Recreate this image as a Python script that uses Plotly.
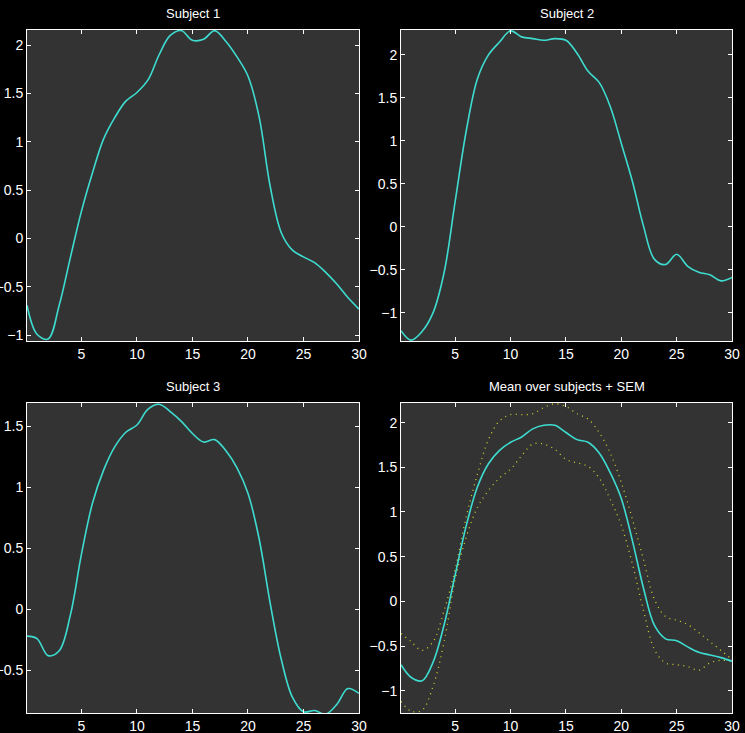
import plotly.graph_objects as go

# time axis shared by all panels
t = [0.1] + list(range(1, 31))

subject_1 = [-0.69, -0.99, -1.04, -0.69, -0.20, 0.28, 0.68, 1.03, 1.25, 1.42, 1.51,
             1.64, 1.90, 2.10, 2.15, 2.05, 2.06, 2.15, 2.04, 1.88, 1.68,
             1.26, 0.54, 0.06, -0.12, -0.19, -0.25, -0.35, -0.47, -0.61, -0.73]
subject_2 = [-1.21, -1.32, -1.22, -1.00, -0.53, 0.30, 1.12, 1.72, 2.00, 2.15, 2.28,
             2.21, 2.19, 2.17, 2.19, 2.17, 2.02, 1.81, 1.68, 1.40, 0.97,
             0.53, 0.01, -0.38, -0.44, -0.32, -0.46, -0.53, -0.56, -0.63, -0.59]
subject_3 = [-0.22, -0.24, -0.38, -0.34, -0.05, 0.45, 0.87, 1.14, 1.33, 1.45, 1.51,
             1.64, 1.68, 1.62, 1.54, 1.44, 1.37, 1.39, 1.30, 1.16, 0.95,
             0.58, 0.05, -0.41, -0.72, -0.84, -0.83, -0.86, -0.78, -0.65, -0.69]
mean_all = [-0.71, -0.85, -0.89, -0.68, -0.26, 0.30, 0.85, 1.28, 1.54, 1.69, 1.78,
            1.84, 1.93, 1.97, 1.97, 1.89, 1.81, 1.78, 1.66, 1.44, 1.15,
            0.68, 0.15, -0.27, -0.42, -0.44, -0.51, -0.57, -0.60, -0.63, -0.67]
sem_upper = [-0.36, -0.45, -0.55, -0.45, -0.10, 0.36, 0.95, 1.42, 1.81, 2.02, 2.09,
             2.09, 2.10, 2.17, 2.21, 2.18, 2.10, 2.04, 1.89, 1.66, 1.33,
             0.92, 0.47, 0.02, -0.17, -0.21, -0.26, -0.35, -0.45, -0.55, -0.65]
sem_lower = [-1.12, -1.23, -1.22, -0.95, -0.45, 0.25, 0.72, 1.05, 1.24, 1.38, 1.48,
             1.63, 1.76, 1.76, 1.70, 1.59, 1.55, 1.51, 1.38, 1.14, 0.85,
             0.42, -0.10, -0.54, -0.69, -0.71, -0.73, -0.77, -0.69, -0.66, -0.67]

titles = ["Subject 1", "Subject 2", "Subject 3", "Mean over subjects + SEM"]
y_ranges = [[-1.06, 2.156], [-1.33, 2.29], [-0.85, 1.69], [-1.25, 2.22]]
x_ticks = [5, 10, 15, 20, 25, 30]
y_ticks = [-1, -0.5, 0, 0.5, 1, 1.5, 2]

W, H = 745, 733
# panel boxes in pixels: left, right, top, bottom
boxes = [(27, 359, 30, 341), (401, 732, 30, 341),
         (27, 359, 403, 713), (401, 732, 403, 713)]

CYAN = "#3edcd0"
YELLOW = "#d0d030"
FONT = "Arial, Liberation Sans, sans-serif"

fig = go.Figure()

series = [subject_1, subject_2, subject_3, mean_all]
for i, ys in enumerate(series):
    ax = "" if i == 0 else str(i + 1)
    if i == 3:
        for band in (sem_upper, sem_lower):
            fig.add_trace(go.Scatter(
                x=t, y=band, mode="lines", line_shape="spline",
                line={"color": YELLOW, "width": 1.3, "dash": "1px,4.5px"},
                xaxis="x" + ax, yaxis="y" + ax, showlegend=False,
            ))
    fig.add_trace(go.Scatter(
        x=t, y=ys, mode="lines", line_shape="spline",
        line={"color": CYAN, "width": 1.6},
        xaxis="x" + ax, yaxis="y" + ax, showlegend=False,
    ))

axis_style = dict(
    showline=True, linecolor="white", linewidth=1, mirror="ticks",
    ticks="inside", ticklen=4, tickwidth=1, tickcolor="white",
    showgrid=False, zeroline=False, automargin=False,
    tickfont={"color": "white", "size": 14, "family": FONT},
)

layout = {}
for i, (l, r, top, bot) in enumerate(boxes):
    ax = "" if i == 0 else str(i + 1)
    layout["xaxis" + ax] = dict(
        axis_style, domain=[l / W, r / W], range=[0.1, 30],
        tickvals=x_ticks, anchor="y" + ax,
    )
    layout["yaxis" + ax] = dict(
        axis_style, domain=[1 - bot / H, 1 - top / H], range=y_ranges[i],
        tickvals=y_ticks, anchor="x" + ax,
    )
    fig.add_annotation(
        text=titles[i], xref="paper", yref="paper",
        x=(l + r) / 2 / W, y=1 - (top - 7) / H,
        xanchor="center", yanchor="bottom",
        showarrow=False, font={"color": "white", "size": 13, "family": FONT},
    )

fig.update_layout(
    **layout,
    width=W, height=H,
    margin={"l": 0, "r": 0, "t": 0, "b": 0},
    paper_bgcolor="black", plot_bgcolor="#333333",
    showlegend=False,
)

# drop the default page margin so the figure sits at the window corner
fig.write_html(
    "out.html",
    config={"displayModeBar": False},
    post_script="document.body.style.margin='0';"
                "document.body.style.background='black';",
)
